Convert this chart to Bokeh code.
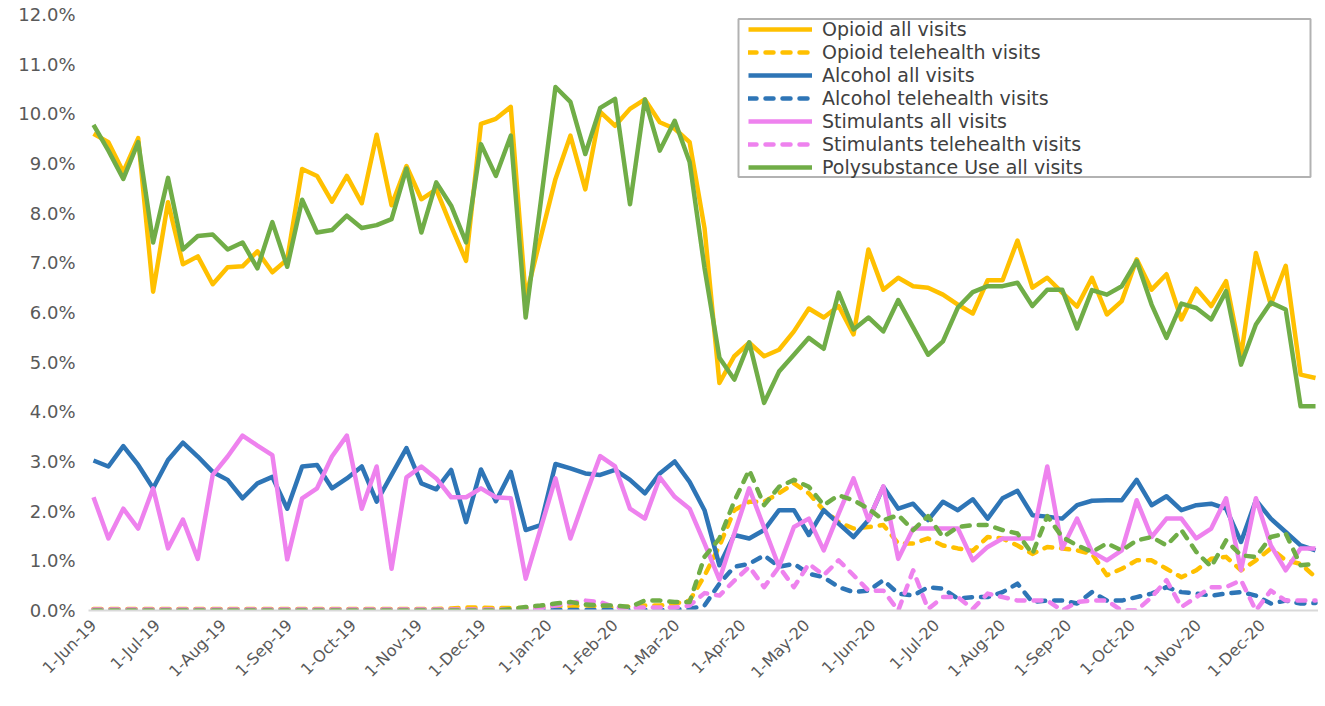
import math
import pandas as pd
from bokeh.plotting import figure
from bokeh.models import (FixedTicker, PrintfTickFormatter, Legend, LegendItem,
                          BoxAnnotation, Range1d)
from bokeh.embed import file_html
from bokeh.resources import INLINE

# ---------------- data (percent of visits, weekly) ----------------
week_start = "2019-06-01"
n_weeks = 83

opioid_all = [9.6, 9.43, 8.83, 9.51, 6.42, 8.22, 6.97, 7.13, 6.57, 6.91,
              6.93, 7.23, 6.81, 7.07, 8.89, 8.75, 8.23, 8.75, 8.2, 9.58,
              8.16, 8.95, 8.28, 8.48, 7.74, 7.04, 9.8, 9.9, 10.14, 6.3,
              7.5, 8.69, 9.56, 8.48, 10.04, 9.76, 10.1, 10.29, 9.83, 9.7,
              9.43, 7.7, 4.58, 5.12, 5.39, 5.12, 5.25, 5.62, 6.08, 5.9,
              6.13, 5.56, 7.27, 6.46, 6.7, 6.53, 6.5, 6.36, 6.16, 5.98,
              6.65, 6.65, 7.45, 6.5, 6.7, 6.4, 6.12, 6.7, 5.96, 6.23,
              7.07, 6.46, 6.77, 5.86, 6.48, 6.13, 6.63, 5.12, 7.2, 6.16,
              6.94, 4.75, 4.68]

opioid_tele = [0.03, 0.03, 0.03, 0.03, 0.03, 0.03, 0.03, 0.03, 0.03, 0.03,
               0.03, 0.03, 0.03, 0.03, 0.03, 0.03, 0.03, 0.03, 0.03, 0.03,
               0.03, 0.03, 0.03, 0.03, 0.04, 0.06, 0.06, 0.05, 0.05, 0.05,
               0.06, 0.08, 0.08, 0.1, 0.08, 0.06, 0.08, 0.1, 0.1, 0.14,
               0.2, 0.7, 1.3, 2.02, 2.19, 2.19, 2.36, 2.56, 2.36, 2.02,
               1.78, 1.65, 1.68, 1.72, 1.35, 1.35, 1.45, 1.31, 1.25, 1.2,
               1.48, 1.45, 1.31, 1.14, 1.28, 1.25, 1.21, 1.14, 0.71, 0.84,
               1.01, 1.01, 0.84, 0.67, 0.81, 1.04, 1.08, 0.81, 1.01, 1.25,
               1.01, 0.94, 0.67]

alcohol_all = [3.02, 2.9, 3.31, 2.93, 2.46, 3.03, 3.38, 3.1, 2.79, 2.63,
               2.26, 2.56, 2.69, 2.05, 2.9, 2.93, 2.46, 2.66, 2.9, 2.19,
               2.73, 3.27, 2.56, 2.44, 2.83, 1.78, 2.84, 2.2, 2.79, 1.62,
               1.72, 2.95, 2.86, 2.76, 2.73, 2.83, 2.63, 2.36, 2.76, 3.0,
               2.59, 2.02, 0.91, 1.52, 1.45, 1.62, 2.02, 2.02, 1.52, 2.02,
               1.75, 1.48, 1.82, 2.49, 2.05, 2.15, 1.82, 2.19, 2.02, 2.24,
               1.85, 2.26, 2.41, 1.92, 1.89, 1.85, 2.12, 2.21, 2.22, 2.22,
               2.63, 2.12, 2.3, 2.02, 2.12, 2.15, 2.05, 1.38, 2.22, 1.85,
               1.58, 1.31, 1.21]

alcohol_tele = [0.01, 0.01, 0.01, 0.01, 0.01, 0.01, 0.01, 0.01, 0.01, 0.01,
                0.01, 0.01, 0.01, 0.01, 0.01, 0.01, 0.01, 0.01, 0.01, 0.01,
                0.01, 0.01, 0.01, 0.01, 0.01, 0.01, 0.01, 0.01, 0.01, 0.01,
                0.01, 0.01, 0.01, 0.01, 0.01, 0.01, 0.01, 0.01, 0.01, 0.02,
                0.03, 0.1, 0.54, 0.88, 0.94, 1.11, 0.88, 0.94, 0.74, 0.67,
                0.47, 0.37, 0.4, 0.61, 0.34, 0.3, 0.47, 0.44, 0.24, 0.27,
                0.27, 0.37, 0.54, 0.17, 0.2, 0.2, 0.14, 0.37, 0.2, 0.2,
                0.27, 0.34, 0.47, 0.37, 0.34, 0.3, 0.34, 0.37, 0.3, 0.14,
                0.2, 0.14, 0.15]

stimulants_all = [2.28, 1.45, 2.05, 1.65, 2.46, 1.25, 1.83, 1.04, 2.73, 3.1,
                  3.52, 3.32, 3.13, 1.03, 2.26, 2.46, 3.1, 3.52, 2.05, 2.9,
                  0.84, 2.68, 2.9, 2.66, 2.28, 2.28, 2.46, 2.28, 2.26, 0.64,
                  1.65, 2.66, 1.45, 2.3, 3.11, 2.9, 2.05, 1.85, 2.68, 2.29,
                  2.05, 1.35, 0.62, 1.55, 2.46, 1.67, 0.88, 1.68, 1.85, 1.21,
                  1.95, 2.66, 1.82, 2.5, 1.04, 1.65, 1.65, 1.65, 1.65, 1.01,
                  1.28, 1.45, 1.45, 1.45, 2.9, 1.25, 1.85, 1.18, 1.01, 1.21,
                  2.22, 1.48, 1.85, 1.85, 1.45, 1.65, 2.26, 0.81, 2.26, 1.31,
                  0.81, 1.25, 1.25]

stimulants_tele = [0.02, 0.02, 0.02, 0.02, 0.02, 0.02, 0.02, 0.02, 0.02, 0.02,
                   0.02, 0.02, 0.02, 0.02, 0.02, 0.02, 0.02, 0.02, 0.02, 0.02,
                   0.02, 0.02, 0.02, 0.02, 0.02, 0.02, 0.02, 0.02, 0.02, 0.03,
                   0.05, 0.1, 0.15, 0.2, 0.17, 0.06, 0.05, 0.06, 0.06, 0.06,
                   0.1, 0.35, 0.3, 0.6, 0.88, 0.47, 0.88, 0.47, 0.94, 0.71,
                   1.01, 0.71, 0.4, 0.4, 0.0, 0.81, 0.03, 0.27, 0.27, 0.03,
                   0.34, 0.27, 0.2, 0.2, 0.2, 0.0, 0.17, 0.2, 0.2, 0.0,
                   0.0, 0.27, 0.61, 0.07, 0.27, 0.47, 0.47, 0.61, 0.0, 0.4,
                   0.2, 0.2, 0.2]

poly_all = [9.78, 9.26, 8.69, 9.43, 7.41, 8.71, 7.27, 7.54, 7.57, 7.27,
            7.41, 6.89, 7.82, 6.92, 8.27, 7.61, 7.66, 7.95, 7.7, 7.76,
            7.88, 8.9, 7.61, 8.62, 8.15, 7.41, 9.39, 8.75, 9.56, 5.9,
            8.2, 10.54, 10.24, 9.19, 10.12, 10.3, 8.18, 10.29, 9.26, 9.86,
            9.03, 6.9, 5.09, 4.65, 5.4, 4.18, 4.81, 5.15, 5.49, 5.27,
            6.4, 5.66, 5.9, 5.62, 6.25, 5.7, 5.15, 5.42, 6.1, 6.41,
            6.53, 6.53, 6.6, 6.13, 6.46, 6.46, 5.68, 6.45, 6.36, 6.53,
            7.04, 6.16, 5.49, 6.18, 6.09, 5.86, 6.43, 4.95, 5.76, 6.2,
            6.06, 4.11, 4.11]

poly_tele = [0.0, 0.0, 0.0, 0.0, 0.0, 0.0, 0.0, 0.0, 0.0, 0.0,
             0.0, 0.0, 0.0, 0.0, 0.0, 0.0, 0.0, 0.0, 0.0, 0.0,
             0.0, 0.0, 0.0, 0.0, 0.0, 0.0, 0.0, 0.0, 0.03, 0.07,
             0.1, 0.14, 0.17, 0.12, 0.1, 0.1, 0.07, 0.2, 0.2, 0.17,
             0.17, 1.08, 1.45, 2.2, 2.83, 2.12, 2.49, 2.63, 2.49, 2.12,
             2.32, 2.22, 2.05, 1.82, 1.92, 1.62, 1.9, 1.48, 1.68, 1.72,
             1.72, 1.62, 1.55, 1.14, 1.9, 1.48, 1.31, 1.18, 1.35, 1.21,
             1.41, 1.48, 1.31, 1.62, 1.18, 0.88, 1.41, 1.11, 1.08, 1.48,
             1.55, 0.91, 0.94]

month_labels = ["1-Jun-19", "1-Jul-19", "1-Aug-19", "1-Sep-19", "1-Oct-19",
                "1-Nov-19", "1-Dec-19", "1-Jan-20", "1-Feb-20", "1-Mar-20",
                "1-Apr-20", "1-May-20", "1-Jun-20", "1-Jul-20", "1-Aug-20",
                "1-Sep-20", "1-Oct-20", "1-Nov-20", "1-Dec-20"]

y_ticks = [0, 1, 2, 3, 4, 5, 6, 7, 8, 9, 10, 11, 12]

series = [
    ("Opioid all visits", opioid_all, "#FFC000", "solid", True),
    ("Opioid telehealth visits", opioid_tele, "#FFC000", "dashed", True),
    ("Alcohol all visits", alcohol_all, "#2E75B6", "solid", True),
    ("Alcohol telehealth visits", alcohol_tele, "#2E75B6", "dashed", True),
    ("Stimulants all visits", stimulants_all, "#EE82EE", "solid", True),
    ("Stimulants telehealth visits", stimulants_tele, "#EE82EE", "dashed", True),
    ("Polysubstance Use all visits", poly_all, "#70AD47", "solid", True),
    ("Polysubstance Use telehealth visits", poly_tele, "#70AD47", "dashed", False),
]

# ---------------- positions ----------------
dates = pd.date_range(week_start, periods=n_weeks, freq="7D")
xs = [int(d) for d in (dates - dates[0]).days]
months = pd.date_range("2019-06-01", "2020-12-01", freq="MS")
tick_pos = [int(d) for d in (months - dates[0]).days]

FONT = "DejaVu Sans"
p = figure(width=1318, height=698, output_backend="svg", toolbar_location=None,
           x_range=Range1d(-2.35, 575.4), y_range=Range1d(0, 12),
           min_border_left=88, min_border_right=0, min_border_top=14,
           min_border_bottom=88)
p.outline_line_color = None
p.xgrid.visible = False
p.ygrid.visible = False
p.background_fill_color = "white"

# y axis
p.yaxis.ticker = FixedTicker(ticks=y_ticks)
p.yaxis.formatter = PrintfTickFormatter(format="%.1f%%")
p.yaxis.axis_line_color = None
p.yaxis.major_tick_line_color = None
p.yaxis.minor_tick_line_color = None
p.yaxis.major_label_text_font = FONT
p.yaxis.major_label_text_font_size = "18px"
p.yaxis.major_label_text_color = "#595959"
p.yaxis.major_label_standoff = 7

# x axis
p.xaxis.ticker = FixedTicker(ticks=tick_pos)
p.xaxis.major_label_overrides = {t: lab for t, lab in zip(tick_pos, month_labels)}
p.xaxis.major_label_orientation = math.pi / 4
p.xaxis.axis_line_color = "#D9D9D9"
p.xaxis.axis_line_width = 2
p.xaxis.major_tick_line_color = None
p.xaxis.minor_tick_line_color = None
p.xaxis.major_label_text_font = FONT
p.xaxis.major_label_text_font_size = "16px"
p.xaxis.major_label_text_color = "#595959"
p.xaxis.major_label_standoff = 6

items = []
for name, vals, color, style, in_legend in series:
    kw = dict(line_color=color, line_width=4.5, line_join="round")
    if style == "dashed":
        kw.update(line_dash="8 9", line_cap="round")
    r = p.line(xs, vals, **kw)
    if in_legend:
        items.append(LegendItem(label=name, renderers=[r]))

legend = Legend(items=items, location=(660, 432), orientation="vertical",
                border_line_color=None, background_fill_alpha=0,
                padding=0, margin=0, spacing=1, label_height=22,
                glyph_height=22, glyph_width=64, label_standoff=10,
                label_text_font=FONT, label_text_font_size="19px",
                label_text_color="#404040")
p.add_layout(legend, "center")

box = BoxAnnotation(left=650, right=1222, top=591.5, bottom=433.5,
                    left_units="screen", right_units="screen",
                    top_units="screen", bottom_units="screen",
                    fill_alpha=0, line_color="black", line_width=2)
p.add_layout(box)

open("out.html", "w").write(file_html(p, INLINE))
